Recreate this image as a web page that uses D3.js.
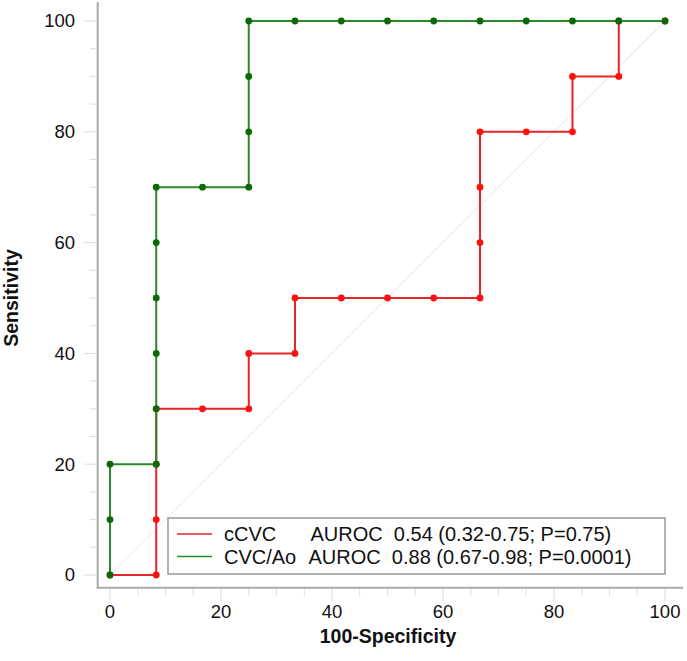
<!DOCTYPE html>
<html><head><meta charset="utf-8">
<script src="https://cdn.jsdelivr.net/npm/d3@7"></script>
<style>body{margin:0;background:#fff}svg{display:block}text{font-family:"Liberation Sans",Arial,sans-serif}</style>
</head><body>
<svg id="c" width="687" height="661"></svg>
<script>
const cCVC_x = [0, 8.33, 8.33, 8.33, 8.33, 16.67, 25, 25, 33.33, 33.33, 41.67, 50, 58.33, 66.67, 66.67, 66.67, 66.67, 75, 83.33, 83.33, 91.67, 91.67, 100];
const cCVC_y = [0, 0, 10, 20, 30, 30, 30, 40, 40, 50, 50, 50, 50, 50, 60, 70, 80, 80, 80, 90, 90, 100, 100];
const cvcAo_x = [0, 0, 0, 8.33, 8.33, 8.33, 8.33, 8.33, 8.33, 16.67, 25, 25, 25, 25, 33.33, 41.67, 50, 58.33, 66.67, 75, 83.33, 91.67, 100];
const cvcAo_y = [0, 10, 20, 20, 30, 40, 50, 60, 70, 70, 70, 80, 90, 100, 100, 100, 100, 100, 100, 100, 100, 100, 100];
const majorTicks = [0, 20, 40, 60, 80, 100];
const minorTicks = d3.range(0, 101, 5);
const legendNames = ["cCVC", "CVC/Ao"];
const legendStats = ["AUROC  0.54 (0.32-0.75; P=0.75)", "AUROC  0.88 (0.67-0.98; P=0.0001)"];

const svg = d3.select("#c");
const x = d3.scaleLinear().domain([0, 100]).range([110, 665]);
const y = d3.scaleLinear().domain([0, 100]).range([575, 21]);
const axX = 97.7, axY = 587.7;

svg.append("g").selectAll("line").data(minorTicks).join("line")
  .attr("x1", d => majorTicks.includes(d) ? axX - 14 : axX - 8).attr("x2", axX)
  .attr("y1", d => y(d)).attr("y2", d => y(d))
  .attr("stroke", "#ddd").attr("stroke-width", 1);
svg.append("g").selectAll("line").data(minorTicks).join("line")
  .attr("y1", axY).attr("y2", d => majorTicks.includes(d) ? axY + 14 : axY + 8)
  .attr("x1", d => x(d)).attr("x2", d => x(d))
  .attr("stroke", "#ddd").attr("stroke-width", 1);

svg.append("line").attr("x1", axX).attr("x2", axX).attr("y1", 2).attr("y2", axY + 1)
  .attr("stroke", "#aaa").attr("stroke-width", 2);
svg.append("line").attr("x1", axX - 1).attr("x2", 683).attr("y1", axY).attr("y2", axY)
  .attr("stroke", "#aaa").attr("stroke-width", 2);

svg.append("g").selectAll("text").data(majorTicks).join("text")
  .attr("x", 75).attr("y", d => y(d)).attr("dy", "0.35em")
  .attr("text-anchor", "end").attr("font-size", 18.5).attr("fill", "#111").text(d => d);
svg.append("g").selectAll("text").data(majorTicks).join("text")
  .attr("x", d => x(d)).attr("y", 618)
  .attr("text-anchor", "middle").attr("font-size", 18.5).attr("fill", "#111").text(d => d);

svg.append("text").attr("x", 388).attr("y", 643).attr("text-anchor", "middle")
  .attr("font-size", 19.5).attr("font-weight", "bold").attr("fill", "#111").text("100-Specificity");
svg.append("text").attr("transform", "translate(18,298) rotate(-90)").attr("text-anchor", "middle")
  .attr("font-size", 19.5).attr("font-weight", "bold").attr("fill", "#111").text("Sensitivity");

svg.append("line").attr("x1", x(0)).attr("y1", y(0)).attr("x2", x(100)).attr("y2", y(100))
  .attr("stroke", "#e6e6e6").attr("stroke-width", 1);

const line = d3.line().curve(d3.curveLinear).x(d => x(d[0])).y(d => y(d[1]));
function series(xs, ys, lc, dc) {
  const pts = xs.map((v, i) => [v, ys[i]]);
  svg.append("path").datum(pts).attr("d", line).attr("fill", "none")
    .attr("stroke", lc).attr("stroke-width", 2);
  svg.append("g").selectAll("circle").data(pts).join("circle")
    .attr("cx", d => x(d[0])).attr("cy", d => y(d[1])).attr("r", 3.4).attr("fill", dc);
}
series(cCVC_x, cCVC_y, "#e3262a", "#ff1010");
series(cvcAo_x, cvcAo_y, "#2a8a2a", "#0a6a0a");

const lg = svg.append("g");
lg.append("rect").attr("x", 168).attr("y", 518).attr("width", 497).attr("height", 56)
  .attr("fill", "#fff").attr("stroke", "#999").attr("stroke-width", 1.5);
const lcol = ["#e3262a", "#2a8a2a"];
const ly = [534, 556.5];
legendNames.forEach((n, i) => {
  lg.append("line").attr("x1", 177).attr("x2", 212).attr("y1", ly[i]).attr("y2", ly[i])
    .attr("stroke", lcol[i]).attr("stroke-width", 1.5);
  lg.append("text").attr("x", 224).attr("y", ly[i]).attr("dy", "0.36em")
    .attr("font-size", 20).attr("fill", "#111").text(n);
  lg.append("text").attr("x", i === 0 ? 310.5 : 308.5).attr("y", ly[i]).attr("dy", "0.36em")
    .attr("font-size", 20).attr("fill", "#111").attr("xml:space", "preserve")
    .style("white-space", "pre").text(legendStats[i]);
});
</script>
</body></html>
